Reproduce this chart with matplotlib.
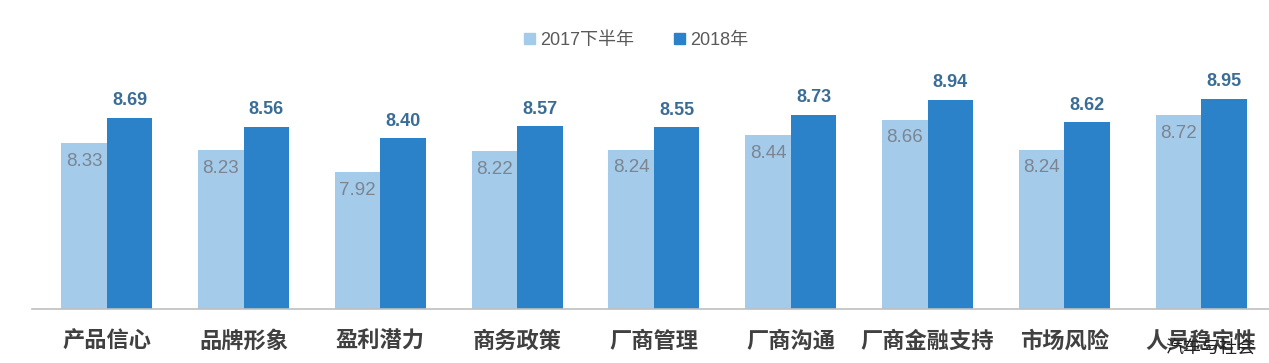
import numpy as np
import matplotlib.pyplot as plt
from matplotlib.patches import Patch

categories = ['产品信心', '品牌形象', '盈利潜力', '商务政策', '厂商管理',
              '厂商沟通', '厂商金融支持', '市场风险', '人员稳定性']
h2_2017 = [8.33, 8.23, 7.92, 8.22, 8.24, 8.44, 8.66, 8.24, 8.72]
y2018 = [8.69, 8.56, 8.40, 8.57, 8.55, 8.73, 8.94, 8.62, 8.95]
series_names = ['2017下半年', '2018年']

light = '#A5CBEA'
dark = '#2B82C8'
fam = ['Liberation Sans', 'Noto Sans CJK SC', 'DejaVu Sans']
plt.rcParams['font.family'] = fam

W, H = 1269, 363
fig = plt.figure(figsize=(W / 100, H / 100), dpi=100)
# axes placed in pixel terms: left 32px, bottom at 309px from top
ax = fig.add_axes([32 / W, (H - 309.3) / H, 1 - 32 / W, 309.3 / H])

x = np.arange(len(categories))
width = 0.333
ax.bar(x - width / 2, h2_2017, width, color=light, label=series_names[0])
ax.bar(x + width / 2, y2018, width, color=dark, label=series_names[1])

ax.set_xlim((32 - 106.7) / 136.8, (W - 106.7) / 136.8)
ax.set_ylim(6, 6 + 309.3 / 71.3)

for xi, v in zip(x, h2_2017):
    ax.annotate('%.2f' % v, (xi - width / 2, v), xytext=(0, -18),
                textcoords='offset pixels', ha='center', va='center',
                fontsize=13.5, color='#7A8591')
for xi, v in zip(x, y2018):
    ax.annotate('%.2f' % v, (xi + width / 2, v), xytext=(0, 17),
                textcoords='offset pixels', ha='center', va='center',
                fontsize=13, color='#3A6D96', fontweight='bold')

for s in ['top', 'right', 'left']:
    ax.spines[s].set_visible(False)
ax.spines['bottom'].set_color('#BFBFBF')
ax.spines['bottom'].set_linewidth(1.2)
ax.set_yticks([])
ax.set_xticks(x)
ax.set_xticklabels(categories, fontsize=16, fontweight='bold', color='#404040',
                   family=['Noto Sans CJK SC'])
ax.tick_params(axis='x', length=0, pad=15)

handles = [Patch(color=light), Patch(color=dark)]
fig.legend(handles, series_names, loc='center', bbox_to_anchor=(636 / W, 1 - 40.5 / H),
           ncol=2, frameon=False, fontsize=13, handlelength=0.6, handleheight=0.6,
           handletextpad=0.3, columnspacing=2.2, labelcolor='#595959')

fig.text(1210 / W, 1 - 348 / H, '汽车与社会', ha='center', va='center',
         fontsize=13, color='#222222', family=['Noto Sans CJK SC'])

fig.savefig('out.png', dpi=100)
